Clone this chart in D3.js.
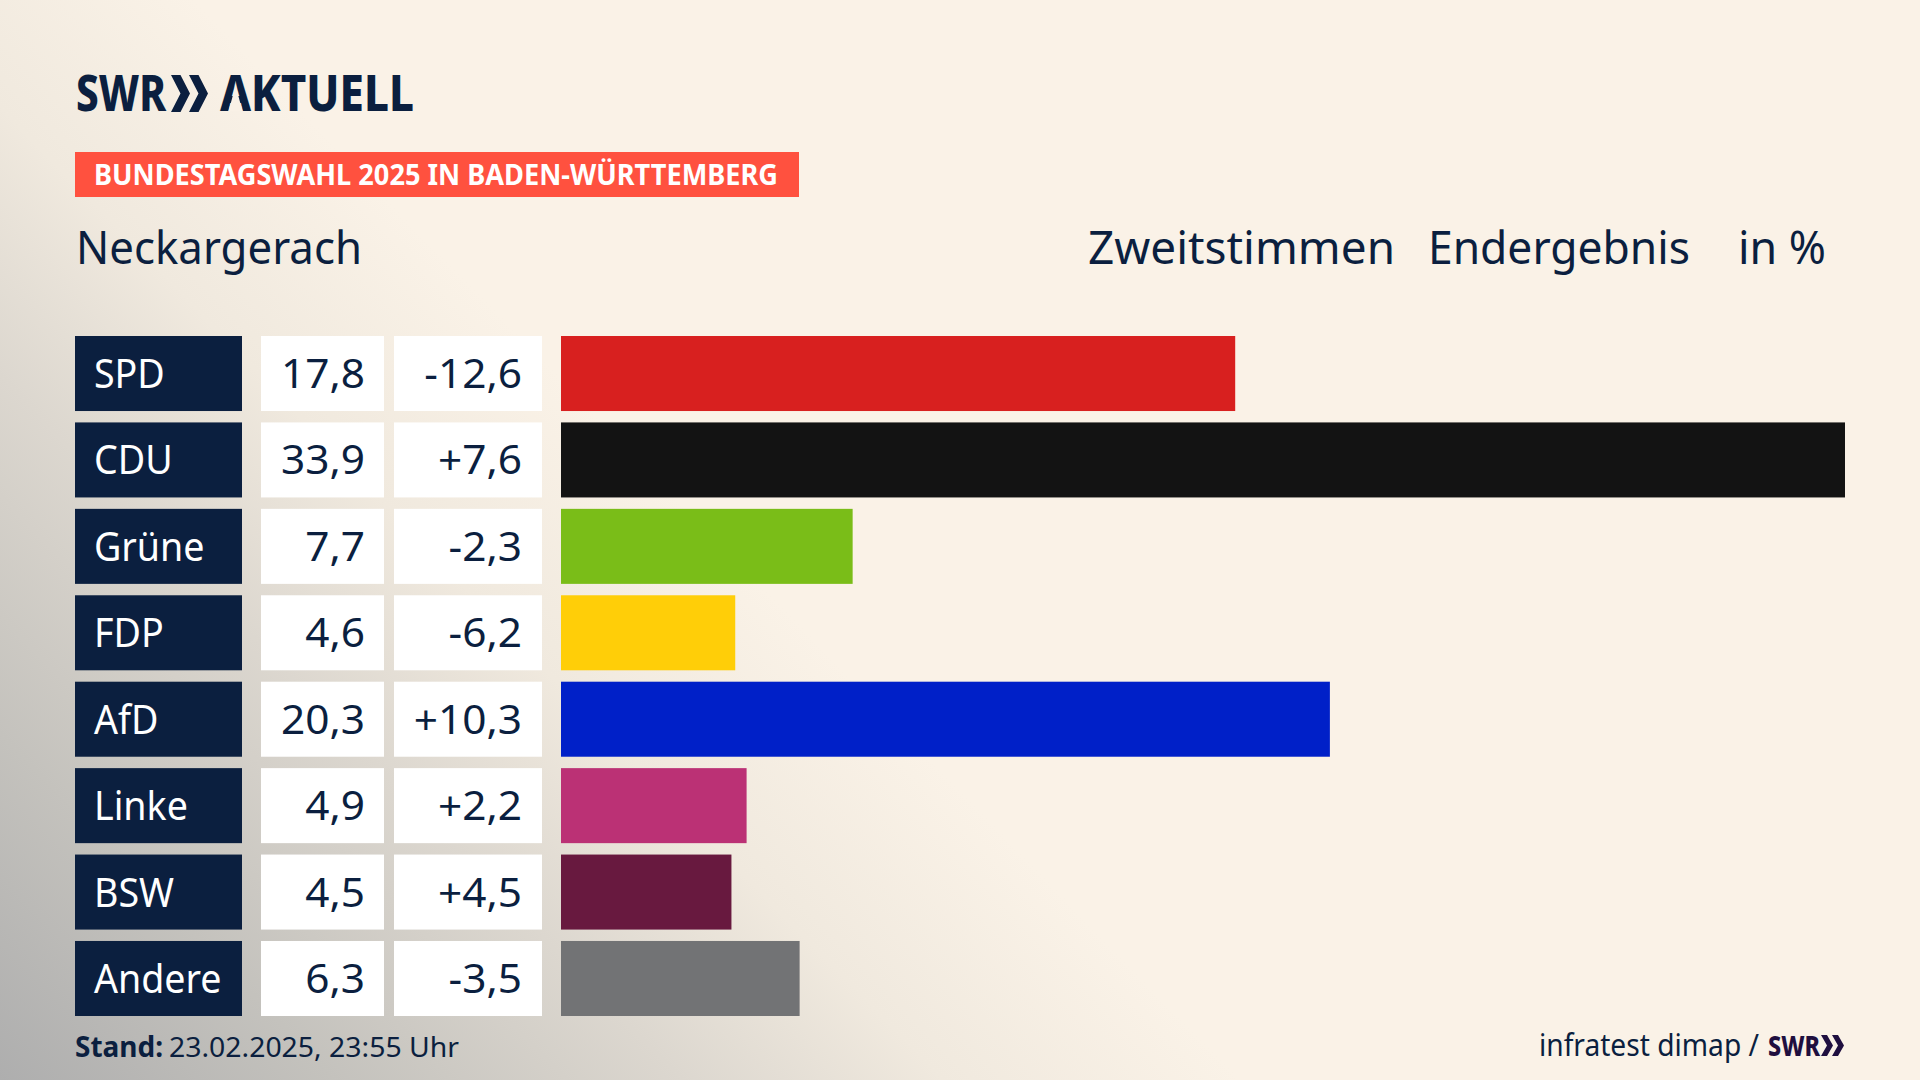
<!DOCTYPE html>
<html><head><meta charset="utf-8">
<script src="https://cdn.jsdelivr.net/npm/d3@7"></script>
<style>html,body{margin:0;padding:0;background:#faf2e7;overflow:hidden}svg{display:block}text{font-family:"Noto Sans",sans-serif}</style>
</head><body><div id="c"></div>
<script>
const parties=["SPD","CDU","Grüne","FDP","AfD","Linke","BSW","Andere"];
const shares=[17.8,33.9,7.7,4.6,20.3,4.9,4.5,6.3];
const changes=[-12.6,7.6,-2.3,-6.2,10.3,2.2,4.5,-3.5];
const colors=["#d8201f","#131313","#7abd18","#ffce08","#0020c8","#bb3175","#68193f","#727375"];
const navy="#0b1f3f";
const fmt=v=>v.toFixed(1).replace(".",",");
const fmtC=v=>(v>0?"+":"")+fmt(v);
const W=1920,H=1080;
const svg=d3.select("#c").append("svg").attr("width",W).attr("height",H);
const defs=svg.append("defs");
const g=defs.append("linearGradient").attr("id","bg").attr("gradientUnits","userSpaceOnUse")
 .attr("x1",0).attr("y1",H).attr("x2",640).attr("y2",460);
[[0,"#aeaeae"],[.27,"#c4c2bd"],[.55,"#dcd7cf"],[.76,"#f0e9de"],[1,"#faf2e7"]].forEach(([o,c])=>g.append("stop").attr("offset",o).attr("stop-color",c));
svg.append("rect").attr("width",W).attr("height",H).attr("fill","#faf2e7");
svg.append("rect").attr("width",W).attr("height",H).attr("fill","url(#bg)");
function txt(x,y,s,size,fill,w,anchor,weight){
 const t=svg.append("text").attr("x",x).attr("y",y).attr("font-size",size).attr("fill",fill).attr("font-weight",weight||400).attr("text-anchor",anchor||"start").text(s);
 if(w)t.attr("textLength",w).attr("lengthAdjust","spacingAndGlyphs");
 return t;
}
const x=d3.scaleLinear().domain([0,33.9]).range([561,1845]);
const y=d3.scaleBand().domain(parties).range([336,1016]).paddingInner(11.4/86.4).paddingOuter(0);
const rows=svg.selectAll("g.row").data(parties).join("g").attr("class","row");
const bh=y.bandwidth();
rows.append("rect").attr("x",75).attr("y",d=>y(d)).attr("width",167).attr("height",bh).attr("fill",navy);
rows.append("rect").attr("x",261).attr("y",d=>y(d)).attr("width",123).attr("height",bh).attr("fill","#fff");
rows.append("rect").attr("x",394).attr("y",d=>y(d)).attr("width",148).attr("height",bh).attr("fill","#fff");
rows.append("rect").attr("x",x(0)).attr("y",d=>y(d)).attr("width",(d,i)=>x(shares[i])-x(0)).attr("height",bh).attr("fill",(d,i)=>colors[i]);
const fs=40, sL=.94, sN=1.06, base=14.5;
rows.append("text").attr("x",94/sL).attr("y",d=>y(d)+bh/2+base).attr("font-size",fs).attr("fill","#fff").attr("transform",`scale(${sL},1)`).text(d=>d);
rows.append("text").attr("x",365/sN).attr("y",d=>y(d)+bh/2+base).attr("font-size",fs).attr("fill",navy).attr("text-anchor","end").attr("transform",`scale(${sN},1)`).text((d,i)=>fmt(shares[i]));
rows.append("text").attr("x",522/sN).attr("y",d=>y(d)+bh/2+base).attr("font-size",fs).attr("fill",navy).attr("text-anchor","end").attr("transform",`scale(${sN},1)`).text((d,i)=>fmtC(changes[i]));
// header
txt(76,111,"SWR",50,navy,90,"start",800);
const chev=(x0,y0,w,h)=>`M${x0},${y0}h${w*.5}l${w*.5},${h/2}l${-w*.5},${h/2}h${-w*.5}l${w*.5},${-h/2}z`;
svg.append("path").attr("d",chev(171,75,19,37)+chev(189,75,19,37)).attr("fill",navy);
const ak=txt(220,111,"AKTUELL",50,navy,194,"start",800);
const aw=ak.node().getExtentOfChar(0).width;
svg.append("path").attr("d",`M${220+aw*.5-7},111L${220+aw*.5+7},111L${220+aw*.5},86z`).attr("fill","#f9f1e6");
svg.append("rect").attr("x",75).attr("y",152).attr("width",724).attr("height",45).attr("fill","#ff513f");
txt(94,185,"BUNDESTAGSWAHL 2025 IN BADEN-WÜRTTEMBERG",28,"#fff",684,"start",700);
txt(76,264,"Neckargerach",45,navy,286);
txt(1088,264,"Zweitstimmen",45,navy,307);
txt(1428,264,"Endergebnis",45,navy,262);
txt(1738,264,"in %",45,navy,88);
// footer
txt(75,1057,"Stand:",28,navy,88,"start",700);
txt(169,1057,"23.02.2025, 23:55 Uhr",28,navy,290);
txt(1539,1056,"infratest dimap /",30,navy,220);
txt(1768,1056,"SWR",28,"#1f0f3f",52,"start",800);
svg.append("path").attr("d",chev(1821,1035,12,21)+chev(1832,1035,12,21)).attr("fill","#1f0f3f");
</script></body></html>
